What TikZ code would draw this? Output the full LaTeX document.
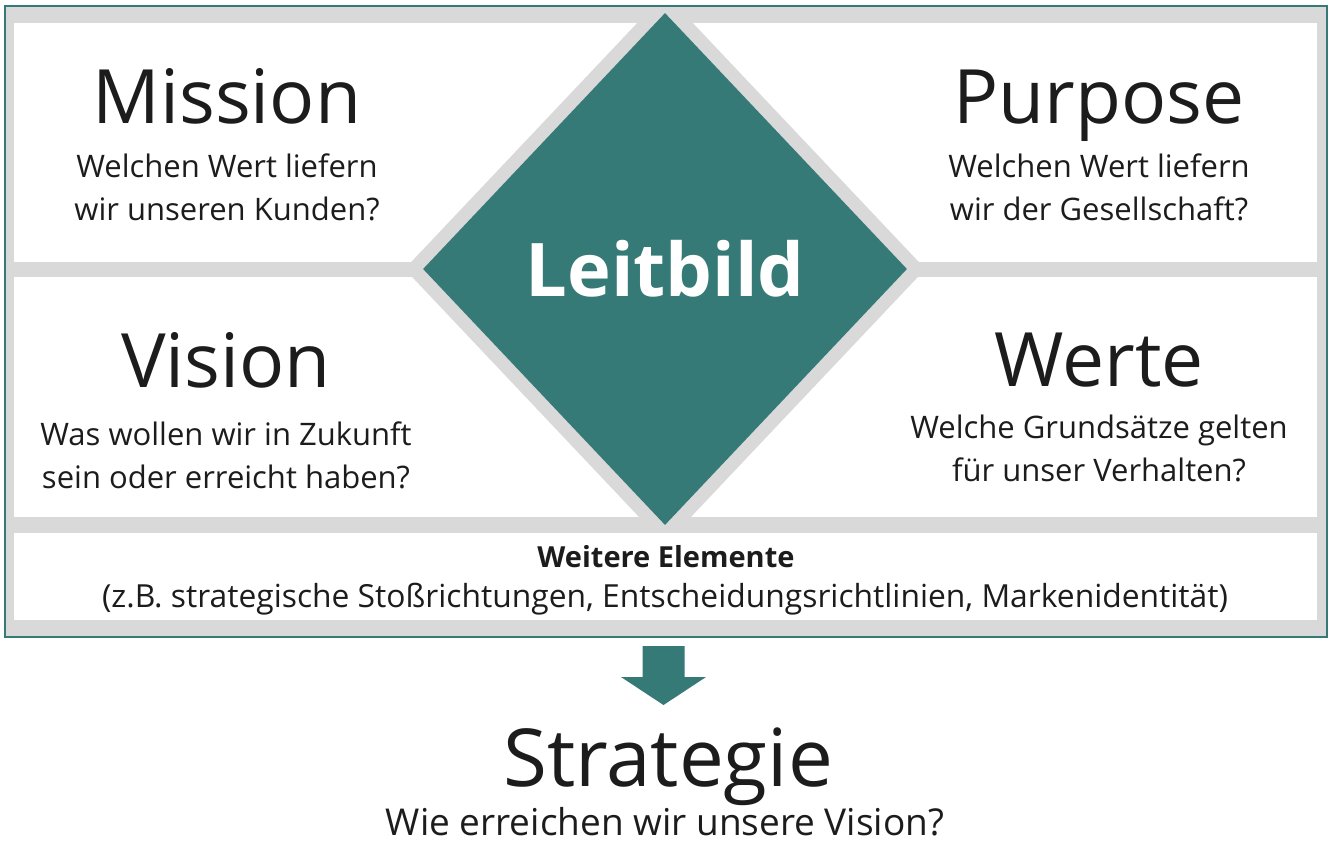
\documentclass[tikz,border=0pt]{standalone}
\usepackage{fontspec}
\setmainfont{Open Sans}
\usetikzlibrary{shapes.geometric}
\definecolor{leitteal}{HTML}{357A77}
\definecolor{bandgray}{HTML}{D9D9D9}
\definecolor{inkblack}{HTML}{1C1C1C}
\newcommand\hdfont{\fontsize{75}{90}\selectfont}
\newcommand\sbfont{\fontsize{31}{43}\selectfont}
\newcommand\ldfont{\fontsize{74}{88}\selectfont\bfseries}
\newcommand\twolines[2]{\begin{tabular}[t]{@{}c@{}}#1\\#2\end{tabular}}
\begin{document}
\begin{tikzpicture}[x=1pt,y=-1pt,
  panel/.style={fill=white},
  title/.style={anchor=base, font=\hdfont, text=inkblack, inner sep=0pt},
  question/.style={anchor=base, font=\sbfont, text=inkblack, inner sep=0pt},
]
\useasboundingbox (0,0) rectangle (1333,844);
\fill[white] (0,0) rectangle (1333,844);
% frame and panels
\fill[bandgray] (5,6) rectangle (1327,637);
\fill[panel] (14,23) rectangle (1317,262);
\fill[panel] (14,277) rectangle (1317,517);
\begin{scope}
  \clip (5,6) rectangle (1327,637);
  \node[diamond, fill=bandgray, minimum width=521pt, minimum height=551pt, inner sep=0pt] (halo) at (665,269) {};
\end{scope}
\node[diamond, fill=leitteal, minimum width=484pt, minimum height=512pt, inner sep=0pt, text=white, font=\ldfont] (leitbild) at (665,269) {Leitbild};
\fill[panel] (14,533) rectangle (1317,620);
\draw[leitteal, line width=2pt] (5,6) rectangle (1327,637);
% quadrant texts
\node[title] (mission) at (227,123) {Mission};
\node[question] (missionq) at (227,177) {\twolines{Welchen Wert liefern}{wir unseren Kunden?}};
\node[title] (purpose) at (1099,123) {Purpose};
\node[question] (purposeq) at (1099,177) {\twolines{Welchen Wert liefern}{wir der Gesellschaft?}};
\node[title] (vision) at (226,387) {Vision};
\node[question] (visionq) at (226,445) {\twolines{Was wollen wir in Zukunft}{sein oder erreicht haben?}};
\node[title] (werte) at (1099,386) {Werte};
\node[question] (werteq) at (1099,438) {\twolines{Welche Grundsätze gelten}{für unser Verhalten?}};
% further elements
\node[anchor=base, inner sep=0pt, text=inkblack, font=\fontsize{29}{34}\selectfont\bfseries] (weitere) at (666,567) {Weitere Elemente};
\node[anchor=base, inner sep=0pt, text=inkblack, font=\fontsize{31.8}{40}\selectfont] (weitereq) at (665,607) {(z.B. strategische Stoßrichtungen, Entscheidungsrichtlinien, Markenidentität)};
% arrow to strategy
\coordinate (arrowtop) at (663.5,646);
\fill[leitteal] (arrowtop) ++(-21,0) -- ++(42,0) -- ++(0,31) -- ++(21.5,0) -- (663.5,705) -- (621,677) -- (642.5,677) -- cycle;
\node[anchor=base, inner sep=0pt, text=inkblack, font=\fontsize{80}{92}\selectfont] (strategie) at (668,786) {Strategie};
\node[anchor=base, inner sep=0pt, text=inkblack, font=\fontsize{37}{44}\selectfont] (strategieq) at (665,835) {Wie erreichen wir unsere Vision?};
\end{tikzpicture}
\end{document}
